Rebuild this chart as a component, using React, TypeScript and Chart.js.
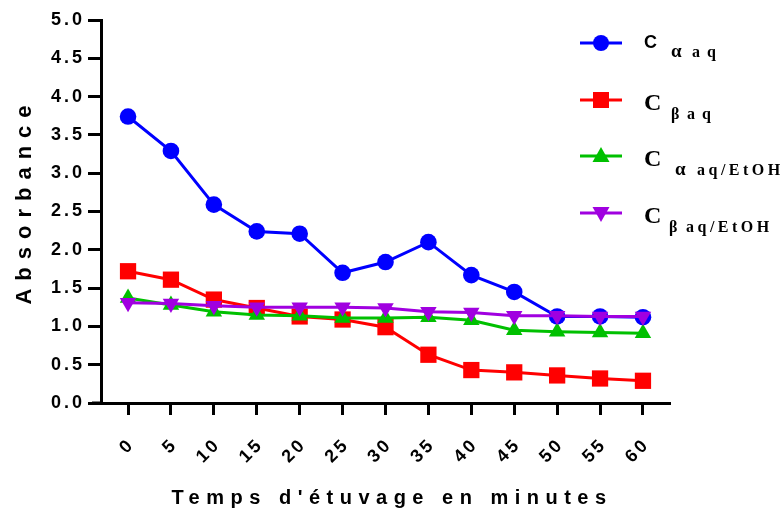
import React, { useEffect, useRef } from 'react';
import { Chart, registerables } from 'chart.js';

Chart.register(...registerables);

const minutes = [0, 5, 10, 15, 20, 25, 30, 35, 40, 45, 50, 55, 60];
const cAlphaAq = [3.74, 3.29, 2.59, 2.24, 2.21, 1.70, 1.84, 2.10, 1.67, 1.45, 1.13, 1.13, 1.12];
const cBetaAq = [1.72, 1.61, 1.35, 1.24, 1.13, 1.09, 0.99, 0.63, 0.43, 0.40, 0.36, 0.32, 0.29];
const cAlphaAqEtOH = [1.37, 1.28, 1.19, 1.15, 1.14, 1.11, 1.11, 1.12, 1.08, 0.95, 0.93, 0.92, 0.91];
const cBetaAqEtOH = [1.31, 1.30, 1.27, 1.25, 1.25, 1.25, 1.24, 1.19, 1.18, 1.14, 1.14, 1.13, 1.13];

const seriesLabels = ['Cα aq', 'Cβ aq', 'Cα aq/EtOH', 'Cβ aq/EtOH'];
const legendSymbols = ['α', 'β', 'α', 'β'];
const legendSuffixes = ['aq', 'aq', 'aq/EtOH', 'aq/EtOH'];
const seriesColors = ['#0000FF', '#FF0000', '#00C000', '#A000E0'];
const seriesMarkers = ['circle', 'rect', 'triangle', 'invTriangle'];
const yTickValues = [0, 0.5, 1, 1.5, 2, 2.5, 3, 3.5, 4, 4.5, 5];
const xTitle = "Temps d'étuvage en minutes";
const yTitle = 'Absorbance';

const SANS = '"Liberation Sans", Arial, sans-serif';
const SERIF = '"Liberation Serif", "Times New Roman", serif';

function drawMarker(ctx: CanvasRenderingContext2D, kind: string, x: number, y: number, color: string) {
  ctx.save();
  ctx.fillStyle = color;
  ctx.beginPath();
  if (kind === 'circle') {
    ctx.arc(x, y, 8, 0, Math.PI * 2);
  } else if (kind === 'rect') {
    ctx.rect(x - 8, y - 8, 16, 16);
  } else if (kind === 'triangle') {
    ctx.moveTo(x, y - 9);
    ctx.lineTo(x + 8.5, y + 6);
    ctx.lineTo(x - 8.5, y + 6);
    ctx.closePath();
  } else {
    ctx.moveTo(x, y + 9);
    ctx.lineTo(x + 8.5, y - 6);
    ctx.lineTo(x - 8.5, y - 6);
    ctx.closePath();
  }
  ctx.fill();
  ctx.restore();
}

const decorPlugin = {
  id: 'decor',
  beforeDraw(chart: any) {
    (chart.ctx as any).letterSpacing = '3px';
  },
  afterDraw(chart: any) {
    const ctx = chart.ctx as CanvasRenderingContext2D & { letterSpacing: string };
    const area = chart.chartArea;
    ctx.save();
    // x axis extension to the left of the y axis
    ctx.strokeStyle = '#000';
    ctx.lineWidth = 3;
    ctx.beginPath();
    ctx.moveTo(area.left - 9, area.bottom);
    ctx.lineTo(area.left, area.bottom);
    ctx.stroke();
    ctx.fillStyle = '#000';
    // x title
    ctx.letterSpacing = '6.5px';
    ctx.font = 'bold 20px ' + SANS;
    ctx.textAlign = 'center';
    ctx.textBaseline = 'alphabetic';
    ctx.fillText(xTitle, 392, 504);
    // y title
    ctx.save();
    ctx.letterSpacing = '8px';
    ctx.font = 'bold 22px ' + SANS;
    ctx.translate(31, 201);
    ctx.rotate(-Math.PI / 2);
    ctx.fillText(yTitle, 0, 0);
    ctx.restore();
    // legend
    ctx.textAlign = 'left';
    const rowY = [43, 100, 156, 213];
    chart.data.datasets.forEach((ds: any, i: number) => {
      const y = rowY[i];
      ctx.save();
      ctx.strokeStyle = seriesColors[i];
      ctx.lineWidth = 3;
      ctx.beginPath();
      ctx.moveTo(580, y);
      ctx.lineTo(622, y);
      ctx.stroke();
      ctx.restore();
      drawMarker(ctx, seriesMarkers[i], 601, y, seriesColors[i]);
      ctx.fillStyle = '#000';
      ctx.letterSpacing = '0px';
      let cBase;
      if (i === 0) {
        ctx.font = 'bold 18px ' + SANS;
        cBase = y + 5;
      } else {
        ctx.font = 'bold 24px ' + SERIF;
        cBase = y + 10;
      }
      ctx.fillText('C', 644, cBase);
      const subBase = cBase + 9;
      const isAlpha = legendSymbols[i] === 'α';
      ctx.font = (isAlpha ? 'bold 19px ' : 'bold 16px ') + SERIF;
      const symX = i === 2 ? 675 : (i === 3 ? 669 : 671);
      ctx.fillText(legendSymbols[i], symX, subBase);
      const sufX = [692, 687, 697, 686][i];
      ctx.font = 'bold 16px ' + SERIF;
      ctx.letterSpacing = i < 2 ? '7px' : '3.5px';
      ctx.fillText(legendSuffixes[i], sufX, subBase);
    });
    ctx.restore();
  },
};

export default function App() {
  const ref = useRef<HTMLCanvasElement | null>(null);
  useEffect(() => {
    document.body.style.margin = '0';
    if (!ref.current) return;
    const datasets = [cAlphaAq, cBetaAq, cAlphaAqEtOH, cBetaAqEtOH].map((vals, i) => ({
      label: seriesLabels[i],
      data: minutes.map((m, j) => ({ x: m, y: vals[j] })),
      borderColor: seriesColors[i],
      backgroundColor: seriesColors[i],
      borderWidth: 3,
      tension: 0,
      pointStyle: seriesMarkers[i] === 'circle' ? 'circle' : seriesMarkers[i] === 'rect' ? 'rect' : 'triangle',
      rotation: seriesMarkers[i] === 'invTriangle' ? 180 : 0,
      pointRadius: seriesMarkers[i] === 'circle' ? 8.3 : seriesMarkers[i] === 'rect' ? 11.5 : 9.5,
      pointBorderWidth: 0,
      pointBackgroundColor: seriesColors[i],
      order: 4 - i,
    }));
    const chart = new Chart(ref.current, {
      type: 'line',
      data: { datasets },
      options: {
        animation: false,
        responsive: false,
        layout: { padding: { left: 0, top: 20, right: 112, bottom: 0 } },
        plugins: { legend: { display: false }, tooltip: { enabled: false } },
        scales: {
          x: {
            type: 'linear',
            min: -3.15,
            max: 63.15,
            afterBuildTicks: (scale: any) => {
              scale.ticks = minutes.map((v) => ({ value: v }));
            },
            afterFit: (scale: any) => {
              scale.height = 110;
            },
            grid: { drawOnChartArea: false, drawTicks: true, tickLength: 12, tickWidth: 3, tickColor: '#000' },
            border: { display: true, width: 3, color: '#000' },
            ticks: {
              autoSkip: false,
              minRotation: 45,
              maxRotation: 45,
              padding: 19,
              labelOffset: 4,
              color: '#000',
              font: { family: SANS, size: 18, weight: 'bold' },
              callback: (v: any) => String(v),
            },
          },
          y: {
            min: 0,
            max: 5,
            afterBuildTicks: (scale: any) => {
              scale.ticks = yTickValues.map((v) => ({ value: v }));
            },
            afterFit: (scale: any) => {
              scale.width = 101;
            },
            grid: { drawOnChartArea: false, drawTicks: true, tickLength: 13, tickWidth: 3, tickColor: '#000' },
            border: { display: true, width: 3, color: '#000' },
            ticks: {
              padding: 3,
              color: '#000',
              font: { family: SANS, size: 18, weight: 'bold' },
              callback: (v: any) => Number(v).toFixed(1),
            },
          },
        },
      },
      plugins: [decorPlugin],
    } as any);
    return () => chart.destroy();
  }, []);
  return (
    <div style={{ width: 782, height: 513, position: 'relative' }}>
      <canvas ref={ref} width={782} height={513} style={{ display: 'block' }} />
    </div>
  );
}
